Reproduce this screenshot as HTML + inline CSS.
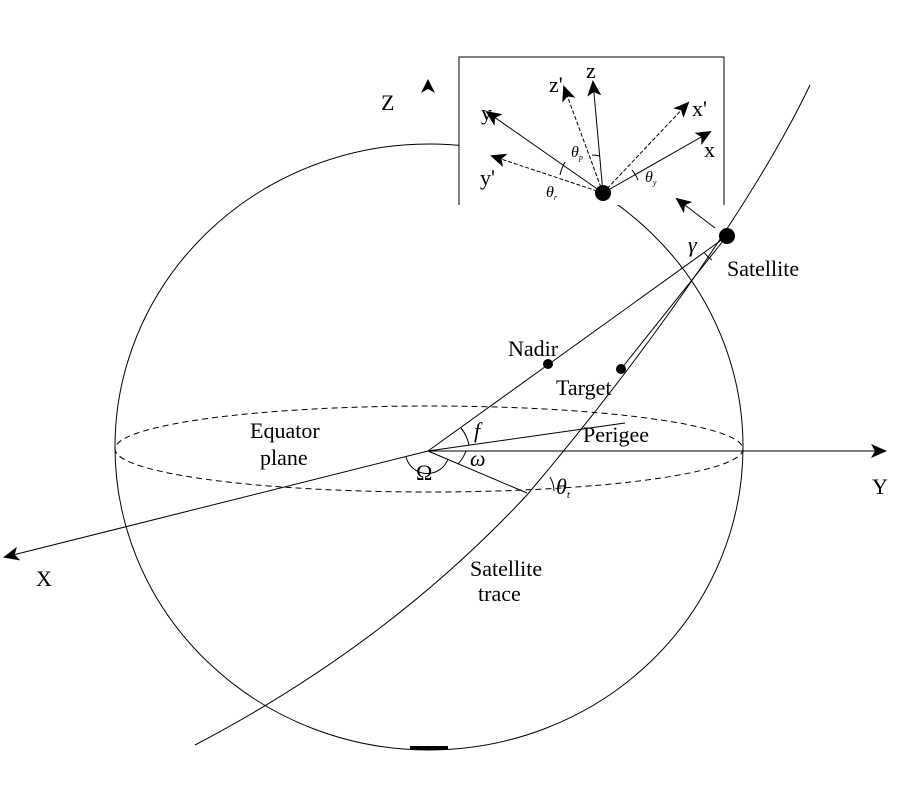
<!DOCTYPE html>
<html><head><style>body{margin:0;background:#fff}svg{display:block}text{font-family:"Liberation Serif",serif;fill:#000}</style></head>
<body>
<svg width="900" height="800" viewBox="0 0 900 800">
<defs>
<marker id="b" markerWidth="16" markerHeight="14" refX="14" refY="7" orient="auto" markerUnits="userSpaceOnUse"><path d="M0,0 L16,7 L0,14 L4,7 z" fill="#000"/></marker>
</defs>
<g fill="none" stroke="#000" stroke-width="1">
<ellipse cx="429" cy="447" rx="314" ry="303"/>
<ellipse cx="429" cy="449" rx="314" ry="43" stroke-dasharray="6,4"/>
<line x1="428" y1="451" x2="885" y2="451" marker-end="url(#b)"/>
<line x1="428" y1="451" x2="5" y2="557" marker-end="url(#b)"/>
<line x1="428" y1="451" x2="625" y2="423"/>
<line x1="428" y1="451" x2="727" y2="236"/>
<line x1="428" y1="451" x2="527" y2="493"/>
<line x1="727" y1="236" x2="621" y2="369"/>
<path d="M810,85 C760,190 650,350 527,495 C420,610 300,690 195,745"/>
<path d="M461,428 A40,40 0 0 1 469,445"/>
<path d="M466,451 A38,38 0 0 1 458,464"/>
<path d="M406,457 A22,22 0 0 0 448,459"/>
<path d="M550,477 A28,28 0 0 1 554,491"/>
<path d="M704,252 A26,26 0 0 0 712,260"/>
</g>
<rect x="459" y="57" width="265" height="148" fill="#fff" stroke="none"/>
<path d="M459,205 V57 H724 V205" fill="none" stroke="#000"/>
<g stroke="#000" fill="none">
<line x1="603" y1="193" x2="593" y2="82" marker-end="url(#b)"/>
<line x1="603" y1="193" x2="564" y2="87" stroke-dasharray="4,2" marker-end="url(#b)"/>
<line x1="603" y1="193" x2="487" y2="112" marker-end="url(#b)"/>
<line x1="603" y1="193" x2="492" y2="156" stroke-dasharray="4,2" marker-end="url(#b)"/>
<line x1="603" y1="193" x2="688" y2="103" stroke-dasharray="4,2" marker-end="url(#b)"/>
<line x1="603" y1="193" x2="710" y2="132" marker-end="url(#b)"/>
<line x1="715" y1="228" x2="677" y2="199" marker-end="url(#b)"/>
<path d="M560,175 A45,45 0 0 1 565,162"/>
<path d="M592,155 A40,40 0 0 1 600,156"/>
<path d="M632,170 A38,38 0 0 1 638,180"/>
</g>
<path d="M421,93 L428,79 L435,93 L428,89z" fill="#000"/>
<g fill="#000">
<circle cx="603" cy="193" r="8"/>
<circle cx="727" cy="236" r="8"/>
<circle cx="548" cy="364" r="5"/>
<circle cx="621" cy="369" r="5"/>
</g>
<rect x="410" y="746" width="38" height="4" fill="#000"/>
<g font-size="22">
<text x="381" y="110">Z</text>
<text x="586" y="78">z</text>
<text x="549" y="92">z'</text>
<text x="481" y="120">y</text>
<text x="480" y="185">y'</text>
<text x="692" y="116">x'</text>
<text x="704" y="157">x</text>
<text x="727" y="276">Satellite</text>
<text x="508" y="356">Nadir</text>
<text x="556" y="395">Target</text>
<text x="583" y="442">Perigee</text>
<text x="250" y="438">Equator</text>
<text x="260" y="465">plane</text>
<text x="872" y="494">Y</text>
<text x="36" y="586">X</text>
<text x="470" y="576">Satellite</text>
<text x="478" y="601">trace</text>
<text x="416" y="480">Ω</text>
<text x="470" y="466" font-style="italic">ω</text>
<text x="474" y="438" font-style="italic">f</text>
<text x="688" y="252" font-style="italic">γ</text>
<text x="556" y="494" font-style="italic">θ<tspan font-size="11" dy="4">t</tspan></text>
<text x="571" y="157" font-size="16" font-style="italic">θ<tspan font-size="8" dy="3">p</tspan></text>
<text x="546" y="197" font-size="16" font-style="italic">θ<tspan font-size="8" dy="3">r</tspan></text>
<text x="645" y="182" font-size="16" font-style="italic">θ<tspan font-size="8" dy="3">y</tspan></text>
</g>
</svg>
</body></html>
